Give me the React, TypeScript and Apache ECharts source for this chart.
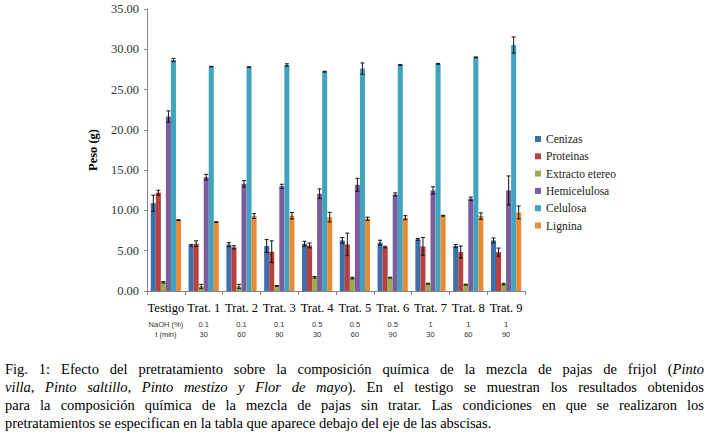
import React, { useEffect, useRef } from "react";
import * as echarts from "echarts";

const categories = ["Testigo", "Trat. 1", "Trat. 2", "Trat. 3", "Trat. 4", "Trat. 5", "Trat. 6", "Trat. 7", "Trat. 8", "Trat. 9"];
const naohRow = ["NaOH (%)", "0.1", "0.1", "0.1", "0.5", "0.5", "0.5", "1", "1", "1"];
const timeRow = ["t (min)", "30", "60", "90", "30", "60", "90", "30", "60", "90"];
const yTicks = { min: 0, max: 35, interval: 5 };

const seriesNames = ["Cenizas", "Proteinas", "Extracto etereo", "Hemicelulosa", "Celulosa", "Lignina"];
const seriesColors = ["#3D6FAA", "#B8413E", "#97AF50", "#7B5C9C", "#41A3BD", "#EB8A36"];

const cenizas = [10.9, 5.66, 5.75, 5.58, 5.87, 6.28, 6.0, 6.4, 5.58, 6.28];
const cenizasErr = [1.0, 0.1, 0.25, 0.8, 0.3, 0.35, 0.3, 0.1, 0.2, 0.3];
const proteinas = [12.2, 5.87, 5.42, 4.88, 5.66, 5.79, 5.45, 5.54, 4.83, 4.83];
const proteinasErr = [0.3, 0.35, 0.2, 1.35, 0.3, 1.4, 0.1, 1.1, 0.75, 0.5];
const extracto = [1.08, 0.58, 0.58, 0.64, 1.7, 1.61, 1.66, 0.91, 0.79, 0.87];
const extractoErr = [0.08, 0.25, 0.25, 0.05, 0.1, 0.1, 0.05, 0.05, 0.05, 0.1];
const hemicelulosa = [21.65, 14.13, 13.3, 13.0, 12.07, 13.18, 11.98, 12.48, 11.45, 12.48];
const hemicelulosaErr = [0.7, 0.35, 0.4, 0.25, 0.6, 0.8, 0.2, 0.45, 0.2, 1.8];
const celulosa = [28.67, 27.85, 27.8, 28.05, 27.22, 27.6, 28.05, 28.2, 29.0, 30.53];
const celulosaErr = [0.2, 0.03, 0.03, 0.15, 0.05, 0.7, 0.05, 0.05, 0.05, 1.0];
const lignina = [8.8, 8.55, 9.3, 9.34, 9.17, 8.97, 9.1, 9.34, 9.3, 9.75];
const ligninaErr = [0.05, 0.05, 0.3, 0.4, 0.6, 0.2, 0.25, 0.05, 0.4, 0.8];

const seriesValues = [cenizas, proteinas, extracto, hemicelulosa, celulosa, lignina];
const seriesErrors = [cenizasErr, proteinasErr, extractoErr, hemicelulosaErr, celulosaErr, ligninaErr];

const captionLines = [
  "Fig. 1: Efecto del pretratamiento sobre la composición química de la mezcla de pajas de frijol (_Pinto",
  "villa, Pinto saltillo, Pinto mestizo y Flor de mayo_). En el testigo se muestran los resultados obtenidos",
  "para la composición química de la mezcla de pajas sin tratar. Las condiciones en que se realizaron los",
  "pretratamientos se especifican en la tabla que aparece debajo del eje de las abscisas.",
];

const SERIF = "Liberation Serif";
const SANS = "Liberation Sans";

function buildCaption(): any[] {
  const ctx = document.createElement("canvas").getContext("2d")!;
  const fs = 14.5;
  const left = 5;
  const right = 704;
  const ys = [369, 387, 405, 422.5];
  let italic = false;
  const out: any[] = [];
  captionLines.forEach((line, li) => {
    const words = line.split(" ").map((w) => {
      const parts: { t: string; it: boolean }[] = [];
      let cur = "";
      for (const ch of w) {
        if (ch === "_") {
          if (cur) parts.push({ t: cur, it: italic });
          cur = "";
          italic = !italic;
        } else cur += ch;
      }
      if (cur) parts.push({ t: cur, it: italic });
      return parts;
    });
    const measure = (t: string, it: boolean) => {
      ctx.font = `${it ? "italic " : ""}${fs}px "${SERIF}"`;
      return ctx.measureText(t).width;
    };
    const widths = words.map((parts) => parts.reduce((s, p) => s + measure(p.t, p.it), 0));
    const total = widths.reduce((a, b) => a + b, 0);
    const justify = li < captionLines.length - 1;
    const gap = justify ? (right - left - total) / (words.length - 1) : measure(" ", false);
    let x = left;
    words.forEach((parts, wi) => {
      let px = x;
      parts.forEach((p) => {
        out.push({
          type: "text",
          x: px,
          y: ys[li],
          silent: true,
          style: {
            text: p.t,
            fontFamily: SERIF,
            fontSize: fs,
            fontStyle: p.it ? "italic" : "normal",
            fill: "#000",
            verticalAlign: "middle",
            align: "left",
          },
        });
        px += measure(p.t, p.it);
      });
      x += widths[wi] + gap;
    });
  });
  return out;
}

function errorSeries(si: number) {
  const vals = seriesValues[si];
  const errs = seriesErrors[si];
  return {
    type: "custom",
    name: seriesNames[si] + " error",
    silent: true,
    z: 10,
    data: vals.map((v, i) => [i, v - errs[i], v + errs[i]]),
    renderItem: (params: any, api: any) => {
      const ci = api.value(0);
      const lo = api.coord([ci, api.value(1)]);
      const hi = api.coord([ci, api.value(2)]);
      const band = api.size([1, 0])[0];
      const bw = (band * 0.8) / 6;
      const x = lo[0] + (si - 2.5) * bw;
      const cap = 2;
      const st = { stroke: "#111", lineWidth: 1 };
      return {
        type: "group",
        children: [
          { type: "line", shape: { x1: x, y1: lo[1], x2: x, y2: hi[1] }, style: st },
          { type: "line", shape: { x1: x - cap, y1: hi[1], x2: x + cap, y2: hi[1] }, style: st },
          { type: "line", shape: { x1: x - cap, y1: lo[1], x2: x + cap, y2: lo[1] }, style: st },
        ],
      };
    },
  };
}

export default function App() {
  const ref = useRef<HTMLDivElement>(null);
  useEffect(() => {
    if (!ref.current) return;
    const chart = echarts.init(ref.current, null, { renderer: "svg" });
    const barSeries = seriesNames.map((name, si) => ({
      type: "bar",
      name,
      data: seriesValues[si],
      barGap: "0%",
      barCategoryGap: "20%",
      itemStyle: { color: seriesColors[si] },
      z: 2,
    }));
    const errSeries = seriesNames.map((_, si) => errorSeries(si));
    chart.setOption({
      animation: false,
      backgroundColor: "#fff",
      textStyle: { fontFamily: SERIF },
      grid: { left: 147, top: 9, width: 378, height: 282, containLabel: false },
      legend: {
        data: seriesNames,
        orient: "vertical",
        left: 530,
        top: 128,
        icon: "rect",
        itemWidth: 6,
        itemHeight: 6,
        itemGap: 5.3,
        formatter: (name: string) => `{l|${name}}`,
        textStyle: {
          fontFamily: SERIF,
          fontSize: 11.5,
          color: "#222",
          lineHeight: 12,
          rich: { l: { fontFamily: SERIF, fontSize: 11.5, color: "#222", lineHeight: 12 } },
        },
      },
      xAxis: {
        type: "category",
        data: categories,
        axisLine: { lineStyle: { color: "#868686", width: 1 } },
        axisTick: { show: true, alignWithLabel: false, length: 4, lineStyle: { color: "#868686" } },
        axisLabel: {
          interval: 0,
          margin: 4,
          formatter: (v: string, i: number) => `{a|${v}}\n{b|${naohRow[i]}}\n{b|${timeRow[i]}}`,
          rich: {
            a: { fontFamily: SERIF, fontSize: 12.5, color: "#000", lineHeight: 25 },
            b: { fontFamily: SANS, fontSize: 7.5, color: "#333", lineHeight: 9.7 },
          },
        },
        splitLine: { show: false },
      },
      yAxis: {
        type: "value",
        min: yTicks.min,
        max: yTicks.max,
        interval: yTicks.interval,
        name: "Peso (g)",
        nameLocation: "middle",
        nameGap: 32,
        nameTextStyle: { fontFamily: SERIF, fontWeight: "bold", fontSize: 12.5, color: "#000" },
        axisLine: { show: true, lineStyle: { color: "#868686", width: 1 } },
        axisTick: { show: true, length: 3, lineStyle: { color: "#868686" } },
        axisLabel: {
          margin: 8,
          fontFamily: SERIF,
          fontSize: 12.5,
          color: "#333",
          formatter: (v: number) => `{y|${v.toFixed(2)}}`,
          rich: { y: { fontFamily: SERIF, fontSize: 12.5, color: "#333" } },
        },
        splitLine: { show: false },
      },
      graphic: buildCaption(),
      series: [...barSeries, ...errSeries],
    });
    return () => chart.dispose();
  }, []);
  return (
    <div
      ref={ref}
      style={{ position: "fixed", left: 0, top: 0, width: 708, height: 437, background: "#fff" }}
    />
  );
}
